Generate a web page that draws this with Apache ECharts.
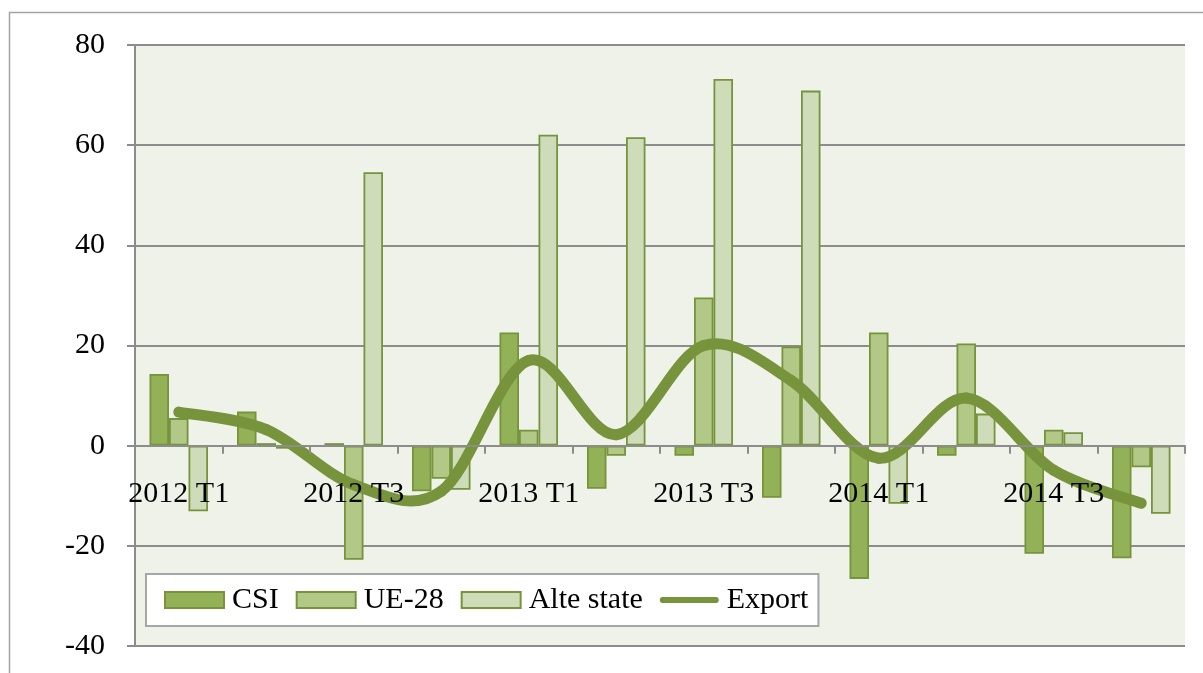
<!DOCTYPE html>
<html>
<head>
<meta charset="utf-8">
<title>Export</title>
<script src="https://cdn.jsdelivr.net/npm/echarts@6/dist/echarts.min.js"></script>
<style>
  html, body { margin: 0; padding: 0; background: #ffffff; }
  #chart { width: 1203px; height: 673px; }
</style>
</head>
<body>
<div id="chart"></div>
<script>
// Quarterly data
const categories = ['2012 T1', '2012 T2', '2012 T3', '2012 T4',
                    '2013 T1', '2013 T2', '2013 T3', '2013 T4',
                    '2014 T1', '2014 T2', '2014 T3', '2014 T4'];
const csi       = [14.3, 6.8, 0.5, -9.1, 22.6, -8.6, -2.0, -10.4, -26.6, -2.0, -21.6, -22.5];
const ue28      = [5.5, 0.5, -22.8, -6.6, 3.2, -2.0, 29.6, 19.8, 22.6, 20.4, 3.2, -4.3];
const alteState = [-13.1, -0.6, 54.6, -8.8, 62.1, 61.6, 73.2, 70.9, -11.6, 6.4, 2.7, -13.6];
const exportVal = [6.7, 3.2, -7.8, -9.1, 17.0, 2.2, 20.0, 13.0, -2.5, 9.5, -4.9, -11.5];
const yTicks = { min: -40, max: 80, interval: 20 };

const FONT = '"Liberation Serif", "DejaVu Serif", serif';
const EDGE = '#77933c';
const GRID_GRAY = '#8c8c8c';

// plot area (px)
const GRID = { left: 135, top: 45, right: 18, bottom: 27 };
const plotHeight = 673 - GRID.top - GRID.bottom;
// category axis sits on the zero line: shift it up from the bottom edge
const xAxisOffset = -((0 - yTicks.min) / (yTicks.max - yTicks.min)) * plotHeight;

const chart = echarts.init(document.getElementById('chart'), null, { renderer: 'canvas' });

function barSeries(name, data, fill) {
  return {
    name: name,
    type: 'bar',
    data: data,
    barWidth: 19.5,
    barGap: '0%',
    itemStyle: { color: fill, borderColor: EDGE, borderWidth: 1.8 },
    emphasis: { disabled: true }
  };
}

// Smoothed export curve: one cubic Bezier per pair of neighbouring quarters,
// control points taken from the neighbours (cardinal spline, tension 1/6).
function renderExportSegment(params, api) {
  const i = params.dataIndex;
  const n = exportVal.length;
  if (i >= n - 1) return null;
  const pt = (k) => {
    const kk = Math.max(0, Math.min(n - 1, k));
    return api.coord([kk, exportVal[kk]]);
  };
  const p0 = pt(i - 1), p1 = pt(i), p2 = pt(i + 1), p3 = pt(i + 2);
  return {
    type: 'bezierCurve',
    shape: {
      x1: p1[0], y1: p1[1],
      x2: p2[0], y2: p2[1],
      cpx1: p1[0] + (p2[0] - p0[0]) / 6, cpy1: p1[1] + (p2[1] - p0[1]) / 6,
      cpx2: p2[0] - (p3[0] - p1[0]) / 6, cpy2: p2[1] - (p3[1] - p1[1]) / 6
    },
    style: { stroke: EDGE, lineWidth: 11, fill: null, lineCap: 'round', lineJoin: 'round' }
  };
}

chart.setOption({
  animation: false,
  graphic: [{
    type: 'rect',
    z: -10,
    shape: { x: 9.5, y: 12.5, width: 1210, height: 700 },
    style: { fill: '#ffffff', stroke: '#a3a3a3', lineWidth: 1.5 }
  }],
  grid: {
    left: GRID.left, top: GRID.top, right: GRID.right, bottom: GRID.bottom,
    outerBoundsMode: 'none',
    containLabel: false,
    show: true,
    backgroundColor: '#eff2e9',
    borderWidth: 0
  },
  legend: {
    left: 146, top: 574,
    padding: [11, 10, 11, 18],
    backgroundColor: '#ffffff',
    borderColor: '#a6a6a6',
    borderWidth: 2,
    itemWidth: 59,
    itemHeight: 16,
    itemGap: 17,
    symbolKeepAspect: true,
    textStyle: { fontFamily: FONT, fontSize: 30, color: '#000000', padding: [0, 0, 0, 3] },
    data: [
      { name: 'CSI', icon: 'rect' },
      { name: 'UE-28', icon: 'rect' },
      { name: 'Alte state', icon: 'rect' },
      { name: 'Export', icon: 'path://M3,0 H57 A3,3 0 0 1 57,6 H3 A3,3 0 0 1 3,0 Z' }
    ],
    selectedMode: false
  },
  xAxis: {
    type: 'category',
    data: categories,
    boundaryGap: true,
    offset: xAxisOffset,
    z: 10,
    axisLine: { onZero: false, lineStyle: { color: GRID_GRAY, width: 2 } },
    axisTick: { show: true, length: 8, interval: 0, lineStyle: { color: GRID_GRAY, width: 2 } },
    axisLabel: { interval: 1, margin: 33, fontFamily: FONT, fontSize: 30, color: '#000000' },
    splitLine: { show: false }
  },
  yAxis: {
    type: 'value',
    min: yTicks.min, max: yTicks.max, interval: yTicks.interval,
    axisLine: { show: true, lineStyle: { color: GRID_GRAY, width: 2 } },
    axisTick: { show: true, length: 8, lineStyle: { color: GRID_GRAY, width: 2 } },
    axisLabel: { margin: 30, fontFamily: FONT, fontSize: 30, color: '#000000' },
    splitLine: { show: true, lineStyle: { color: GRID_GRAY, width: 2 } }
  },
  series: [
    barSeries('CSI', csi, '#93b157'),
    barSeries('UE-28', ue28, '#b1c887'),
    barSeries('Alte state', alteState, '#cfdcba'),
    {
      name: 'Export',
      type: 'custom',
      data: exportVal.map((v, i) => [i, v]),
      encode: { x: 0, y: 1 },
      renderItem: renderExportSegment,
      z: 5,
      clip: false,
      itemStyle: { color: EDGE },
      emphasis: { disabled: true }
    }
  ]
});
</script>
</body>
</html>
